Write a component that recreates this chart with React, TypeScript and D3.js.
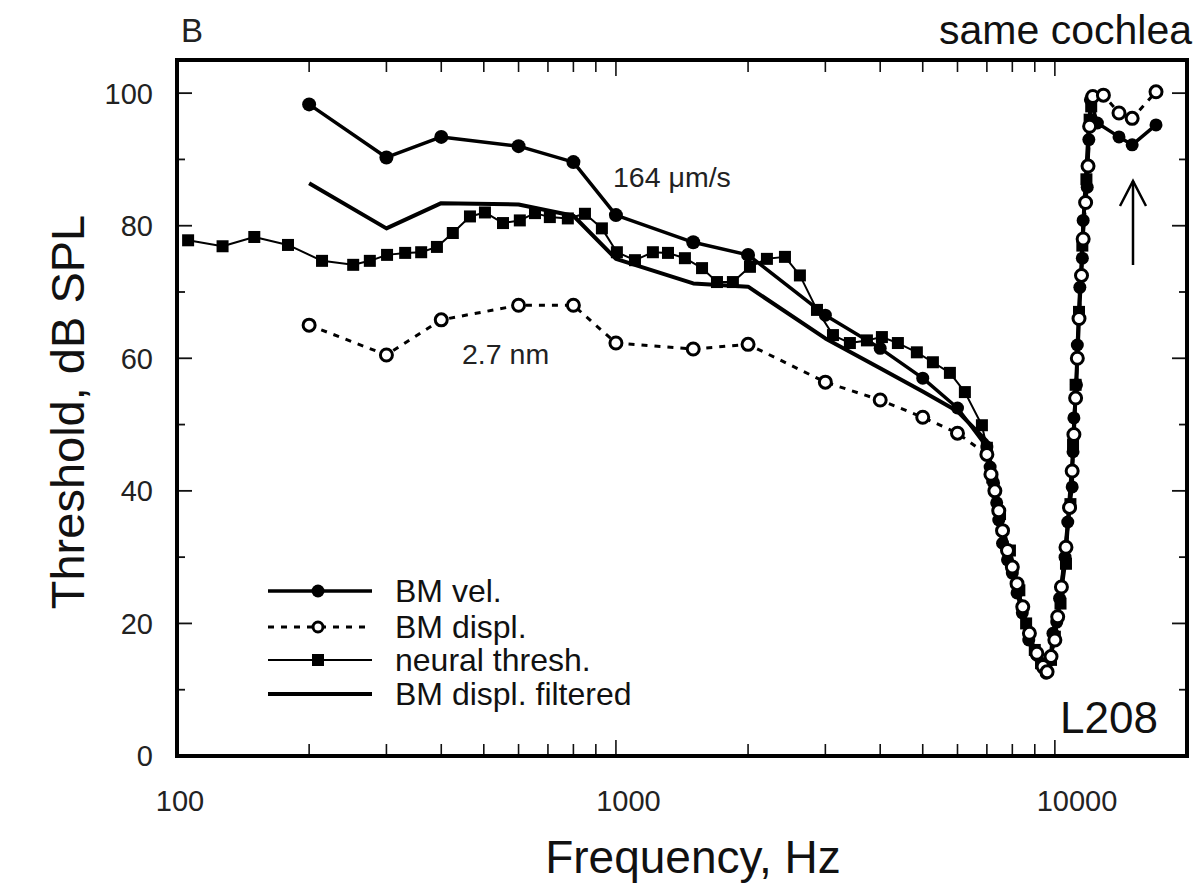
import React from "react";
import * as d3 from "d3";

// ---------- data ----------
const velFreq = [200, 300, 400, 600, 800, 1000, 1500, 2000, 3000, 4000, 5000, 6000,
  7000, 7120, 7250, 7370, 7450, 7600, 7800, 8000, 8200, 8430, 8720, 9100, 9400, 9550,
  9750, 9900, 10100, 10250, 10550, 10700, 10950, 11000, 11050, 11200, 11250, 11400,
  11550, 11600, 11850, 11950, 12050, 12500, 14000, 15000, 17000];
const velDb = [98.3, 90.3, 93.4, 92.0, 89.6, 81.6, 77.5, 75.6, 66.5, 61.5, 57.0, 52.5,
  46.6, 43.6, 41.2, 38.2, 35.6, 32.1, 29.6, 27.6, 24.6, 21.6, 17.5, 15.2, 13.3, 12.5,
  14.5, 18.5, 20.2, 23.8, 30.0, 35.3, 40.6, 45.9, 51.0, 56.0, 62.0, 70.7,
  75.1, 80.8, 85.8, 93.0, 99.0, 95.5, 93.4, 92.2, 95.2];

const displFreq = [200, 300, 400, 600, 800, 1000, 1500, 2000, 3000, 4000, 5000, 6000,
  7000, 7150, 7300, 7450, 7600, 7800, 8000, 8200, 8450, 8750, 9100, 9400, 9600, 9800,
  10000, 10150, 10350, 10600, 10800, 10950, 11050, 11150, 11250, 11350, 11500, 11600,
  11750, 11900, 12000, 12200, 12900, 14000, 15000, 17000];
const displDb = [65.0, 60.5, 65.8, 68.0, 68.0, 62.3, 61.4, 62.1, 56.4, 53.7, 51.1, 48.7,
  45.5, 42.5, 40.0, 37.0, 34.0, 31.0, 28.5, 26.0, 22.5, 18.5, 15.5, 13.5, 12.7, 15.0,
  17.5, 21.0, 25.5, 31.5, 37.5, 43.0, 48.5, 54.0, 60.0, 66.0, 72.5, 78.0,
  83.5, 89.0, 95.0, 99.5, 99.7, 97.0, 96.2, 100.2];

const neuralFreq = [106, 127, 150, 179, 214, 252, 275, 301, 331, 360, 391, 425, 465, 503,
  553, 604, 654, 707, 777, 850, 929, 1005, 1105, 1214, 1314, 1436, 1571, 1699, 1847,
  2020, 2208, 2427, 2625, 2871, 3122, 3412, 3731, 4036, 4389, 4848, 5274, 5766, 6237,
  6820, 7000, 7200, 7500, 7900, 8300, 8600, 9000, 9300, 9550, 9800, 10000, 10300,
  10600, 10850, 11000, 11150, 11350, 11550, 11800, 12000, 12100];
const neuralDb = [77.8, 76.9, 78.3, 77.1, 74.7, 74.1, 74.7, 75.6, 75.9, 76.0, 76.8, 78.9,
  81.4, 82.0, 80.4, 80.8, 81.9, 81.3, 81.1, 81.8, 79.6, 76.0, 74.8, 76.0, 75.9, 75.1,
  73.6, 71.5, 71.5, 73.8, 75.0, 75.3, 72.5, 67.3, 63.5, 62.3, 62.7, 63.2, 62.3, 60.9,
  59.4, 57.8, 54.9, 49.9, 46.5, 42.0, 36.5, 31.0, 25.0, 20.0, 16.0, 14.0, 13.2, 14.5,
  18.0, 23.0, 29.0, 38.0, 47.0, 56.0, 67.0, 77.0, 87.0, 96.0, 98.0];

const filtFreq = [200, 300, 400, 600, 800, 1000, 1500, 2000, 3000, 4000, 5000, 6000,
  7000, 7400, 7800, 8200, 8600, 9000, 9500, 9900, 10300, 10700, 11000, 11300, 11600,
  11950, 12100];
const filtDb = [86.4, 79.6, 83.4, 83.2, 81.5, 75.0, 71.3, 70.8, 63.0, 58.5, 55.0, 52.0,
  47.5, 37.5, 30.5, 25.0, 19.5, 16.0, 13.0, 16.5, 24.0, 35.0, 46.0, 63.0, 80.0,
  95.0, 99.0];

const xTickLabels = [100, 1000, 10000];
const yTickLabels = [0, 20, 40, 60, 80, 100];
const legendLabels = ["BM vel.", "BM displ.", "neural thresh.", "BM displ. filtered"];

const zip = (f: number[], v: number[]) => f.map((d, i) => [d, v[i]] as [number, number]);

const FONT = "'Liberation Sans', Arial, Helvetica, sans-serif";

export default function App() {
  const x = d3.scaleLog().domain([100, 20000]).range([177, 1187]);
  const y = d3.scaleLinear().domain([0, 105]).range([756, 60]);
  // the printed tick numbers sit slightly right of their ticks in the scan
  const xLabel = d3.scaleLog().domain([100, 10000]).range([180, 1077]);
  const line = d3
    .line<[number, number]>()
    .x((d) => x(d[0]))
    .y((d) => y(d[1]));

  const vel = zip(velFreq, velDb);
  const displ = zip(displFreq, displDb);
  const neural = zip(neuralFreq, neuralDb);
  const filt = zip(filtFreq, filtDb);

  const xTicks = x.ticks();
  const yTicks = d3.range(0, 101, 10);
  const isMajorX = (f: number) => Math.abs(Math.log10(f) - Math.round(Math.log10(f))) < 1e-6;

  const [x0, x1] = x.range();
  const [yb, yt] = y.range();

  const legendRows = [591, 627, 660, 694];

  return (
    <svg
      width={1196}
      height={886}
      style={{ position: "absolute", left: 0, top: 0, background: "#fff" }}
      fontFamily={FONT}
    >
      <rect x={0} y={0} width={1196} height={886} fill="#fff" />

      {/* ticks */}
      {xTicks.map((f) => {
        const len = isMajorX(f) ? 16 : 12;
        return (
          <g key={"xt" + f} stroke="#111" strokeWidth={1.6}>
            <line x1={x(f)} x2={x(f)} y1={yb} y2={yb - len} />
            <line x1={x(f)} x2={x(f)} y1={yt} y2={yt + len} />
          </g>
        );
      })}
      {yTicks.map((v) => {
        const len = v % 20 === 0 ? 15 : 8;
        return (
          <g key={"yt" + v} stroke="#111" strokeWidth={1.8}>
            <line x1={x0} x2={x0 + len} y1={y(v)} y2={y(v)} />
            <line x1={x1} x2={x1 - len} y1={y(v)} y2={y(v)} />
          </g>
        );
      })}

      {/* frame */}
      <rect x={x0} y={yt} width={x1 - x0} height={yb - yt} fill="none" stroke="#000" strokeWidth={4} />

      {/* tick labels */}
      {yTickLabels.map((v) => (
        <text key={"yl" + v} x={153} y={y(v)} dy="0.36em" textAnchor="end" fontSize={29} fill="#222">
          {v}
        </text>
      ))}
      {xTickLabels.map((f) => (
        <text key={"xl" + f} x={xLabel(f)} y={811} textAnchor="middle" fontSize={29} fill="#222">
          {f}
        </text>
      ))}

      {/* axis titles */}
      <text x={693} y={873} textAnchor="middle" fontSize={46} fill="#111">
        Frequency, Hz
      </text>
      <text transform="translate(84,412) rotate(-90)" textAnchor="middle" fontSize={47} fill="#111">
        Threshold, dB SPL
      </text>

      {/* series lines */}
      <path d={line(filt) || ""} fill="none" stroke="#000" strokeWidth={4} strokeLinejoin="round" />
      <path d={line(neural) || ""} fill="none" stroke="#000" strokeWidth={2} strokeLinejoin="round" />
      <path d={line(vel) || ""} fill="none" stroke="#000" strokeWidth={3.5} strokeLinejoin="round" />
      <path
        d={line(displ) || ""}
        fill="none"
        stroke="#000"
        strokeWidth={3}
        strokeDasharray="6,7"
        strokeLinejoin="round"
      />

      {/* markers */}
      {neural.map((d, i) => (
        <rect key={"nm" + i} x={x(d[0]) - 6} y={y(d[1]) - 6} width={12} height={12} fill="#000" />
      ))}
      {vel.map((d, i) => (
        <circle key={"vm" + i} cx={x(d[0])} cy={y(d[1])} r={i < 8 ? 7 : 6.5} fill="#000" />
      ))}
      {displ.map((d, i) => (
        <circle key={"dm" + i} cx={x(d[0])} cy={y(d[1])} r={6} fill="#fff" stroke="#000" strokeWidth={3} />
      ))}

      {/* annotations */}
      <text x={181} y={42} fontSize={33} fill="#222">B</text>
      <text x={1192} y={44} textAnchor="end" fontSize={41} fill="#111">same cochlea</text>
      <text x={613} y={187} fontSize={28.5} fill="#222">164 μm/s</text>
      <text x={462} y={364} fontSize={28.5} fill="#222">2.7 nm</text>
      <text x={1060} y={733} fontSize={44} fill="#111">L208</text>

      {/* arrow */}
      <g stroke="#000" strokeWidth={2.5} fill="none">
        <line x1={1133} x2={1133} y1={265} y2={181} />
        <polyline points="1120,206 1133,181 1146,206" />
      </g>

      {/* legend */}
      {legendLabels.map((lab, i) => {
        const yy = legendRows[i];
        return (
          <g key={"lg" + i}>
            {i === 0 && (
              <>
                <line x1={268} x2={372} y1={yy} y2={yy} stroke="#000" strokeWidth={3.5} />
                <circle cx={318} cy={yy} r={6.5} fill="#000" />
              </>
            )}
            {i === 1 && (
              <>
                <line x1={268} x2={372} y1={yy} y2={yy} stroke="#000" strokeWidth={3} strokeDasharray="6,7" />
                <circle cx={318} cy={yy} r={5} fill="#fff" stroke="#000" strokeWidth={3} />
              </>
            )}
            {i === 2 && (
              <>
                <line x1={268} x2={372} y1={yy} y2={yy} stroke="#000" strokeWidth={2} />
                <rect x={312} y={yy - 6} width={12} height={12} fill="#000" />
              </>
            )}
            {i === 3 && <line x1={268} x2={372} y1={yy} y2={yy} stroke="#000" strokeWidth={4} />}
            <text x={395} y={yy + 11} fontSize={32} fill="#111">
              {lab}
            </text>
          </g>
        );
      })}
    </svg>
  );
}
